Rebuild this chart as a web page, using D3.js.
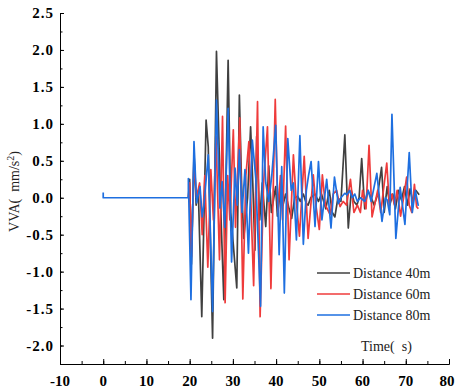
<!DOCTYPE html>
<html>
<head>
<meta charset="utf-8">
<script src="https://cdn.jsdelivr.net/npm/d3@7"></script>
<style>
  body { margin: 0; background: #fff; }
  .tick-label { font-family: "Liberation Serif", serif; font-weight: bold; font-size: 15px; }
  .y-label { letter-spacing: 1px; }
  .txt { font-family: "Liberation Serif", serif; font-size: 14px; fill: #222; }
</style>
</head>
<body>
<svg class="chart"></svg>
<script>
// time (s), VVA (mm/s^2)
var dist40 = [
    [19.7, 0], [20.0, 0.25], [20.4, -0.9], [21.0, 0.6], [21.5, -0.1], [22.0, 0.1],
    [22.8, -1.61], [23.8, 1.05], [24.3, 0.69], [25.3, -1.9], [26.2, 1.98], [27.3, -0.35], [27.9, -1.38],
    [28.9, 1.86], [29.5, -0.2], [30.9, -1.22], [31.5, 1.39], [32.0, 0.2], [32.5, -0.55], [33.4, 0.0],
    [34.1, 0.96], [34.6, 0.2], [35.1, -0.71], [35.5, 0.83], [36.2, -0.3], [36.8, 0.2], [37.6, -0.39],
    [38.3, 0.43], [38.9, -0.2], [39.9, 0.15], [40.3, -0.25], [41.0, 0.1], [41.6, -0.1], [42.2, 0.05],
    [43.0, -0.15], [43.6, -0.28], [44.3, 0.0], [45.0, 0.02], [45.6, -0.05], [46.3, 0.05], [47.0, -0.08],
    [47.4, -0.1], [48.0, 0.0], [49.0, 0.05], [49.8, -0.05], [50.5, 0.05], [51.5, -0.15], [52.3, 0.1],
    [53.0, -0.2], [53.6, -0.26], [54.3, 0.0], [55.0, -0.05], [55.9, 0.85], [56.7, -0.41], [57.4, 0.1],
    [58.0, -0.05], [58.7, -0.1], [59.2, 0.0], [59.8, 0.53], [60.5, -0.15], [61.2, 0.1], [62.0, 0.0],
    [62.7, -0.1], [63.5, 0.05], [64.4, 0.41], [65.0, -0.2], [65.7, 0.15], [66.3, -0.1], [67.0, 0.05],
    [67.6, -0.15], [68.3, 0.1], [69.0, -0.03], [69.7, 0.15], [70.4, -0.1], [71.0, 0.12], [71.6, -0.05],
    [72.3, 0.1], [73.1, 0.04]
];
var dist60 = [
    [19.7, 0], [20.0, 0.2], [20.4, -0.8], [21.0, 0.5], [21.6, 0.0], [22.3, 0.2],
    [22.9, -0.5], [23.5, 0.3], [24.2, -0.94], [24.9, 0.38], [25.5, -0.3], [26.1, 0.83], [26.9, -0.84],
    [27.6, 1.1], [28.2, -1.42], [28.8, 0.3], [29.3, -0.3], [30.1, 0.92], [30.6, -0.4], [31.0, 0.2],
    [31.6, 1.08], [32.3, -1.37], [33.0, 0.3], [33.7, 0.76], [34.8, -1.19], [35.7, 1.3], [36.3, -1.61],
    [37.1, 0.2], [38.0, 0.96], [38.8, -1.23], [39.8, 1.33], [40.4, -0.2], [41.0, 0.3], [41.5, -0.3],
    [42.2, 0.97], [43.0, -0.84], [44.0, 0.58], [44.6, 0.0], [45.4, -0.52], [46.5, 0.56], [47.4, -0.55],
    [48.6, 0.31], [49.2, -0.1], [50.0, -0.43], [50.7, 0.31], [51.4, -0.1], [52.5, -0.23], [53.2, 0.05],
    [54.0, 0.1], [54.8, -0.12], [55.5, -0.05], [56.3, -0.1], [57.2, 0.25], [58.0, -0.2], [58.8, -0.1],
    [59.5, -0.2], [60.0, 0.1], [60.8, -0.15], [61.5, 0.71], [62.2, -0.26], [63.5, 0.1], [64.2, -0.2],
    [65.6, 0.47], [66.2, -0.1], [66.8, 0.05], [67.4, -0.1], [68.0, 0.1], [68.8, -0.25], [69.5, 0.0],
    [70.2, 0.28], [70.8, -0.1], [71.4, -0.2], [72.0, 0.18], [72.5, -0.12], [72.9, -0.15]
];
var dist80 = [
    [0, 0.07], [0, 0], [19.7, 0], [19.7, 0.26], [20.3, -1.38], [21.0, 0.76], [21.6, -0.07], [22.4, 0.15],
    [22.9, -0.26], [23.3, -0.1], [24.3, 0.58], [25.3, -1.54], [26.2, 1.32], [27.0, -0.14], [27.5, 0.22],
    [28.1, -0.4], [28.9, 1.21], [29.7, -0.87], [30.5, 0.4], [31.0, -0.1], [31.5, 0.65], [32.1, -0.2],
    [32.8, 0.38], [33.6, -0.75], [34.5, 0.78], [35.3, 0.26], [36.4, -1.47], [37.0, 0.96], [37.6, 0.2],
    [38.3, -0.05], [39.0, 0.3], [39.9, 0.98], [40.7, -0.77], [41.3, 0.42], [41.9, -1.29], [42.7, 0.8],
    [43.5, 0.1], [44.0, 0.2], [44.7, -0.57], [45.5, 0.84], [46.3, -0.63], [47.0, 0.1], [47.5, 0.3],
    [48.1, 0.49], [49.0, -0.39], [49.8, 0.49], [50.6, -0.3], [51.7, 0.25], [52.7, -0.41], [53.5, 0.28],
    [54.4, -0.08], [55.0, 0.0], [55.9, 0.06], [56.4, 0.04], [57.0, 0.1], [57.6, 0.0], [58.2, 0.05],
    [58.8, -0.05], [59.5, 0.0], [60.5, -0.05], [61.3, 0.1], [62.0, -0.05], [63.3, 0.33], [64.5, -0.32],
    [65.3, 0.0], [65.7, -0.03], [66.3, -0.23], [66.8, 1.13], [67.7, -0.55], [68.7, 0.14], [69.8, -0.36],
    [70.8, 0.61], [71.5, -0.2], [72.2, 0.1], [72.9, -0.11]
];

var seriesNames = ["Distance 40m", "Distance 60m", "Distance 80m"];
var seriesColors = ["#404040", "#ef3b3b", "#1e6fe0"];
var xTicks = [-10, 0, 10, 20, 30, 40, 50, 60, 70, 80];
var yTicks = [-2.0, -1.5, -1.0, -0.5, 0.0, 0.5, 1.0, 1.5, 2.0, 2.5];

var width = 455,
    height = 389,
    plotLeft = 60,
    plotRight = 449,
    plotTop = 13,
    plotBottom = 364;

var svg = d3.select('.chart')
    .attr('width', width)
    .attr('height', height);

svg.append('rect').attr('width', width).attr('height', height).attr('fill', '#fff');

var x = d3.scaleLinear().domain([-10, 80]).range([plotLeft, plotRight]);
var y = d3.scaleLinear().domain([-2.25, 2.5]).range([plotBottom, plotTop]);

// Lines
var line = d3.line()
    .x(function(d) { return x(d[0]); })
    .y(function(d) { return y(d[1]); });

[dist40, dist60, dist80].forEach(function(s, i) {
    svg.append('path')
        .datum(s)
        .attr('fill', 'none')
        .attr('stroke', seriesColors[i])
        .attr('stroke-width', 1.7)
        .attr('stroke-linejoin', 'round')
        .attr('d', line);
});

// Axes (ticks pointing inward)
var xAxis = svg.append('g').attr('transform', 'translate(0,' + plotBottom + ')');
xAxis.call(d3.axisTop(x).tickValues(d3.range(-10, 81, 5)).tickSize(3).tickFormat('').tickSizeOuter(0));
xAxis.append('g').call(d3.axisTop(x).tickValues(xTicks).tickSize(5).tickFormat('').tickSizeOuter(0));
xAxis.selectAll('.domain').attr('stroke', '#000');
xAxis.selectAll('line').attr('stroke', '#000');

// keep the last label inside the page
svg.append('g').selectAll('text')
    .data(xTicks)
    .enter().append('text')
    .attr('class', 'tick-label')
    .attr('x', function(d) { return Math.min(x(d), width - 8); })
    .attr('y', plotBottom + 22)
    .attr('text-anchor', 'middle')
    .text(function(d) { return d; });

var yAxis = svg.append('g').attr('transform', 'translate(' + plotLeft + ',0)');
yAxis.call(d3.axisRight(y).tickValues(d3.range(-2.25, 2.51, 0.25)).tickSize(2.5).tickFormat('').tickSizeOuter(0));
yAxis.append('g').call(d3.axisRight(y).tickValues(yTicks).tickSize(4).tickFormat('').tickSizeOuter(0));
yAxis.selectAll('.domain').attr('stroke', '#000');
yAxis.selectAll('line').attr('stroke', '#000');

svg.append('g').selectAll('text')
    .data(yTicks)
    .enter().append('text')
    .attr('class', 'tick-label y-label')
    .attr('x', plotLeft - 6)
    .attr('y', function(d) { return y(d); })
    .attr('dy', '0.35em')
    .attr('text-anchor', 'end')
    .text(function(d) { return d3.format('.1f')(d).replace('−', '-'); });

// Axis titles
svg.append('text')
    .attr('class', 'txt')
    .attr('transform', 'translate(19,' + ((plotTop + plotBottom) / 2 + 3) + ') rotate(-90)')
    .attr('text-anchor', 'middle')
    .attr('fill', '#444')
    .html('VVA(\u2002mm/s<tspan dy="-5" font-size="10">2</tspan><tspan dy="5">)</tspan>');

svg.append('text')
    .attr('class', 'txt')
    .attr('x', 361)
    .attr('y', 351)
    .text('Time(\u2002s)');

// Legend
var legend = svg.append('g').selectAll('g')
    .data(seriesNames)
    .enter().append('g')
    .attr('transform', function(d, i) { return 'translate(317,' + (273 + i * 21) + ')'; });

legend.append('line')
    .attr('x1', 0).attr('x2', 33)
    .attr('stroke', function(d, i) { return seriesColors[i]; })
    .attr('stroke-width', 1.7);

legend.append('text')
    .attr('class', 'txt')
    .attr('x', 36)
    .attr('dy', '0.35em')
    .text(function(d) { return d; });
</script>
</body>
</html>
